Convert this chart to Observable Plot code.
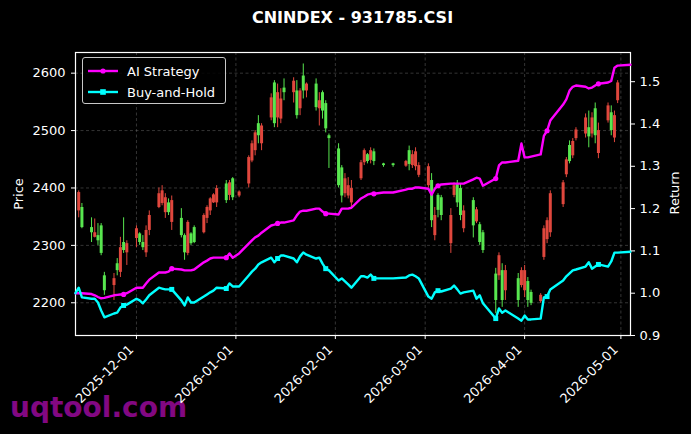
<!DOCTYPE html>
<html>
<head>
<meta charset="utf-8">
<script src="https://cdn.jsdelivr.net/npm/d3@7"></script>
<script src="https://cdn.jsdelivr.net/npm/@observablehq/plot@0.6"></script>
<style>
  html, body { margin: 0; padding: 0; background: #000; }
  #wrap { position: relative; width: 691px; height: 434px; background: #000; overflow: hidden; font-family: "DejaVu Sans", sans-serif; color: #fff; }
  #wrap > svg { position: absolute; left: 0; top: 0; }
  .abs { position: absolute; white-space: nowrap; }
  #title { left: 75px; width: 555px; top: 8px; text-align: center; font-weight: bold; font-size: 16px; line-height: 20px; }
  .ylab { font-size: 13px; line-height: 15px; transform: translate(-50%, -50%) rotate(-90deg); }
  #wm { left: 10px; top: 394px; font-size: 28px; line-height: 28px; font-weight: bold; color: #820882; }
  #legend { left: 82px; top: 57px; width: 144px; height: 47px; border: 1px solid #c8c8c8; border-radius: 3px; background: rgba(0,0,0,0.85); box-sizing: border-box; }
  .lrow { position: absolute; left: 5px; height: 16px; display: flex; align-items: center; font-size: 13px; }
  .lrow svg { margin-right: 9px; }
</style>
</head>
<body>
<div id="wrap">
  <div id="wm" class="abs">uqtool.com</div>
</div>
<script>
// ---------- data ----------
const dates = [
"2025-11-13","2025-11-14","2025-11-17","2025-11-18","2025-11-19","2025-11-20","2025-11-21","2025-11-24","2025-11-25","2025-11-26",
"2025-11-27","2025-11-28","2025-12-01","2025-12-02","2025-12-03","2025-12-04","2025-12-05","2025-12-08","2025-12-09","2025-12-10",
"2025-12-11","2025-12-12","2025-12-15","2025-12-16","2025-12-17","2025-12-18","2025-12-19","2025-12-22","2025-12-23","2025-12-24",
"2025-12-25","2025-12-26","2025-12-29","2025-12-30","2025-12-31","2026-01-02","2026-01-05","2026-01-06","2026-01-07","2026-01-08",
"2026-01-09","2026-01-12","2026-01-13","2026-01-14","2026-01-15","2026-01-16","2026-01-19","2026-01-20","2026-01-21","2026-01-22",
"2026-01-23","2026-01-26","2026-01-27","2026-01-28","2026-01-29","2026-01-30","2026-02-02","2026-02-03","2026-02-04","2026-02-05",
"2026-02-06","2026-02-09","2026-02-10","2026-02-11","2026-02-12","2026-02-13","2026-02-16","2026-02-19","2026-02-23","2026-02-24",
"2026-02-25","2026-02-26","2026-02-27","2026-03-02","2026-03-03","2026-03-04","2026-03-05","2026-03-06","2026-03-09","2026-03-10",
"2026-03-11","2026-03-12","2026-03-13","2026-03-16","2026-03-17","2026-03-18","2026-03-19","2026-03-23","2026-03-24","2026-03-25",
"2026-03-26","2026-03-30","2026-03-31","2026-04-01","2026-04-02","2026-04-03","2026-04-06","2026-04-07","2026-04-08","2026-04-09",
"2026-04-13","2026-04-14","2026-04-15","2026-04-16","2026-04-17","2026-04-20","2026-04-21","2026-04-22","2026-04-23","2026-04-24",
"2026-04-27","2026-04-28","2026-04-29","2026-04-30"];
const open = [
2360,2366,2331,2314,2317,2334,2247,2230,2268,2253,
2305,2287,2312,2320,2305,2287,2326,2366,2373,2357,
2374,2340,2347,2317,2286,2320,2331,2322,2347,2360,
2374,2374,2407,2387,2416,2386,2407,2447,2465,2512,
2477,2522,2583,2522,2520,2574,2566,2569,2538,2595,
2569,2581,2538,2566,2547,2491,2468,2435,2390,2386,
2374,2416,2444,2458,2448,2463,2442,2442,2438,2465,
2439,2437,2422,2404,2413,2317,2387,2383,2303,2387,
2407,2399,2329,2378,2341,2336,2322,2250,2247,2256,
2221,2242,2230,2221,2237,2218,2202,2279,2310,2322,
2371,2423,2474,2456,2486,2494,2505,2494,2538,2460,
2517,2531,2487,2552];
const high = [
2395,2373,2348,2346,2338,2338,2253,2251,2277,2314,
2348,2308,2334,2322,2317,2334,2360,2400,2404,2390,
2381,2386,2364,2320,2343,2322,2334,2355,2369,2383,
2390,2404,2413,2413,2418,2395,2456,2482,2500,2526,
2512,2564,2587,2581,2573,2590,2592,2587,2573,2616,
2583,2590,2566,2569,2552,2494,2477,2439,2425,2418,
2413,2448,2468,2460,2470,2468,2443,2443,2448,2473,
2465,2470,2444,2442,2425,2366,2390,2387,2364,2409,
2413,2407,2369,2383,2366,2340,2326,2260,2287,2268,
2265,2251,2261,2265,2244,2222,2216,2334,2348,2395,
2413,2453,2482,2486,2505,2529,2534,2531,2548,2513,
2548,2543,2534,2587];
const low = [
2348,2329,2305,2313,2300,2282,2213,2204,2247,2244,
2286,2265,2296,2300,2291,2279,2317,2364,2369,2347,
2352,2326,2313,2274,2282,2300,2303,2320,2338,2352,
2373,2366,2373,2378,2378,2383,2400,2444,2456,2477,
2465,2517,2505,2505,2512,2552,2548,2520,2526,2555,
2557,2534,2508,2520,2496,2434,2400,2374,2383,2381,
2366,2413,2439,2442,2442,2439,2436,2436,2436,2430,
2434,2430,2418,2400,2331,2308,2348,2343,2286,2383,
2366,2343,2322,2313,2338,2300,2286,2181,2239,2192,
2204,2192,2226,2209,2192,2195,2199,2274,2303,2314,
2366,2418,2442,2451,2482,2487,2470,2487,2477,2451,
2513,2491,2479,2547];
const close = [
2392,2331,2322,2322,2308,2286,2221,2242,2256,2296,
2291,2303,2329,2305,2296,2326,2352,2390,2395,2383,
2357,2378,2317,2287,2340,2303,2305,2352,2366,2381,
2388,2399,2378,2409,2383,2393,2453,2477,2496,2491,
2508,2557,2512,2566,2555,2566,2586,2526,2569,2569,
2581,2540,2552,2534,2503,2486,2404,2386,2416,2404,
2399,2444,2465,2446,2465,2446,2439,2439,2446,2441,
2458,2463,2439,2437,2343,2352,2361,2352,2352,2404,
2374,2352,2360,2334,2362,2305,2291,2204,2282,2204,
2256,2204,2256,2256,2204,2199,2213,2329,2343,2390,
2409,2449,2446,2481,2501,2522,2489,2522,2491,2500,
2543,2500,2526,2583];

const retDates = ["2025-11-12", ...dates, "2026-05-04"];
const aiReturn = [
1.000,1.000,1.000,0.998,0.995,0.991,0.988,0.989,0.995,0.996,
0.997,0.997,1.000,1.013,1.013,1.013,1.023,1.032,1.049,1.049,
1.049,1.051,1.058,1.056,1.054,1.054,1.054,1.056,1.073,1.077,
1.082,1.084,1.084,1.084,1.094,1.084,1.094,1.117,1.125,1.132,
1.136,1.143,1.160,1.162,1.165,1.167,1.167,1.172,1.184,1.193,
1.195,1.195,1.200,1.200,1.193,1.188,1.188,1.186,1.200,1.200,
1.200,1.202,1.224,1.228,1.233,1.235,1.235,1.238,1.238,1.245,
1.247,1.247,1.250,1.250,1.247,1.233,1.247,1.254,1.257,1.259,
1.259,1.259,1.259,1.259,1.269,1.273,1.271,1.254,1.271,1.302,
1.309,1.309,1.313,1.354,1.321,1.321,1.323,1.328,1.372,1.384,
1.408,1.446,1.458,1.479,1.488,1.491,1.488,1.484,1.486,1.491,
1.495,1.498,1.502,1.533,1.538,1.540];
const bhReturn = [
1.000,1.013,0.990,0.987,0.987,0.978,0.959,0.943,0.952,0.954,
0.966,0.971,0.973,0.987,0.983,0.976,0.985,0.995,1.013,1.011,
1.009,1.009,1.009,0.983,0.971,0.990,0.978,0.978,0.992,0.997,
1.002,1.006,1.013,1.011,1.023,1.016,1.016,1.042,1.051,1.058,
1.068,1.073,1.084,1.073,1.082,1.089,1.089,1.082,1.073,1.087,
1.096,1.091,1.082,1.084,1.070,1.058,1.054,1.030,1.035,1.028,
1.021,1.013,1.040,1.040,1.037,1.044,1.035,1.035,1.035,1.037,
1.042,1.044,1.040,1.035,0.992,0.987,1.002,1.006,1.004,1.011,
1.018,1.009,0.999,1.002,1.006,0.987,0.995,0.976,0.940,0.964,
0.954,0.959,0.940,0.935,0.947,0.938,0.938,0.940,0.990,0.992,
1.009,1.030,1.040,1.047,1.054,1.056,1.063,1.073,1.058,1.063,
1.068,1.063,1.075,1.096,1.096,1.098];

const xTickLabels = ["2025-12-01","2026-01-01","2026-02-01","2026-03-01","2026-04-01","2026-05-01"];
const priceTicks = [2200, 2300, 2400, 2500, 2600];
const returnTicks = [0.9, 1.0, 1.1, 1.2, 1.3, 1.4, 1.5];
const xRange = ["2025-11-12", "2026-05-04"];
const priceRange = [2143, 2636];
const returnRange = [0.9, 1.569];
const seriesNames = ["AI Strategy", "Buy-and-Hold"];

// ---------- build ----------
const RED = "#e0473d", GREEN = "#58e64f", MAG = "#ff00ff", CYAN = "#00ffff";
const parse = d3.utcParse("%Y-%m-%d");
const candles = dates.map((d, i) => ({date: parse(d), o: open[i], h: high[i], l: low[i], c: close[i],
  col: close[i] >= open[i] ? RED : GREEN}));
const rets = retDates.map((d, i) => ({date: parse(d), ai: aiReturn[i], bh: bhReturn[i]}));
const marks = rets.filter((d, i) => i > 0 && i % 11 === 0);
const xDomain = xRange.map(parse);
const monthTicks = xTickLabels.map(parse);

const W = 691, H = 434;
const common = {
  width: W, height: H, marginLeft: 75, marginRight: 61, marginTop: 52, marginBottom: 99,
  style: {background: "transparent", color: "white", fontFamily: "DejaVu Sans", fontSize: "13px", overflow: "visible"}
};
const gridStyle = {stroke: "#777", strokeOpacity: 0.55, strokeDasharray: "3,2.5", strokeWidth: 0.8};

const p1 = Plot.plot({
  ...common,
  x: {type: "utc", domain: xDomain},
  y: {domain: priceRange},
  color: {type: "identity"},
  marks: [
    Plot.gridY(priceTicks, gridStyle),
    Plot.gridX(monthTicks, gridStyle),
    Plot.ruleX(candles, {x: "date", y1: "l", y2: "h", stroke: "col", strokeWidth: 1}),
    Plot.ruleX(candles, {x: "date", y1: "o", y2: "c", stroke: "col", strokeWidth: 3}),
    Plot.axisY(priceTicks, {anchor: "left", tickSize: 4, tickPadding: 6, label: null,
      tickFormat: d3.format("d"), fill: "white", stroke: "white"}),
    Plot.axisX(monthTicks, {anchor: "bottom", tickSize: 4, tickFormat: () => "", label: null, stroke: "white"}),
    Plot.axisX(monthTicks, {anchor: "bottom", tickSize: 0, tickPadding: 7, tickRotate: -45, dx: -5, dy: 5,
      tickFormat: d3.utcFormat("%Y-%m-%d"), label: null, fill: "white"}),
    Plot.frame({stroke: "white", strokeWidth: 1.2})
  ]
});

const p2 = Plot.plot({
  ...common,
  x: {type: "utc", domain: xDomain, axis: null},
  y: {domain: returnRange},
  marks: [
    Plot.line(rets, {x: "date", y: "ai", stroke: MAG, strokeWidth: 2.4}),
    Plot.line(rets, {x: "date", y: "bh", stroke: CYAN, strokeWidth: 2.4}),
    Plot.dot(marks, {x: "date", y: "ai", fill: MAG, r: 2.6, symbol: "circle"}),
    Plot.dot(marks, {x: "date", y: "bh", fill: CYAN, r: 2.8, symbol: "square"}),
    Plot.axisY(returnTicks, {anchor: "right", tickSize: 4, tickPadding: 5, label: null,
      tickFormat: d3.format(".1f"), fill: "white", stroke: "white"})
  ]
});

const wrap = document.getElementById("wrap");
wrap.appendChild(p1);
wrap.appendChild(p2);

function addDiv(id, cls, html, css) {
  const d = document.createElement("div");
  if (id) d.id = id;
  d.className = cls;
  d.innerHTML = html;
  Object.assign(d.style, css || {});
  wrap.appendChild(d);
  return d;
}
addDiv("title", "abs", "CNINDEX - 931785.CSI");
addDiv(null, "abs ylab", "Price", {left: "18px", top: "194px"});
addDiv(null, "abs ylab", "Return", {left: "674px", top: "193px"});

const leg = addDiv("legend", "abs", "");
const swatch = (color, sym) => {
  const m = sym === "circle"
    ? `<circle cx="15" cy="6" r="2.6" fill="${color}"/>`
    : `<rect x="12.2" y="3.2" width="5.6" height="5.6" fill="${color}"/>`;
  return `<svg width="30" height="12"><line x1="0" y1="6" x2="30" y2="6" stroke="${color}" stroke-width="2.4"/>${m}</svg>`;
};
[[seriesNames[0], MAG, "circle", 5], [seriesNames[1], CYAN, "square", 26]].forEach(([name, c, s, top]) => {
  const r = document.createElement("div");
  r.className = "lrow";
  r.style.top = top + "px";
  r.innerHTML = swatch(c, s) + `<span>${name}</span>`;
  leg.appendChild(r);
});
</script>
</body>
</html>
